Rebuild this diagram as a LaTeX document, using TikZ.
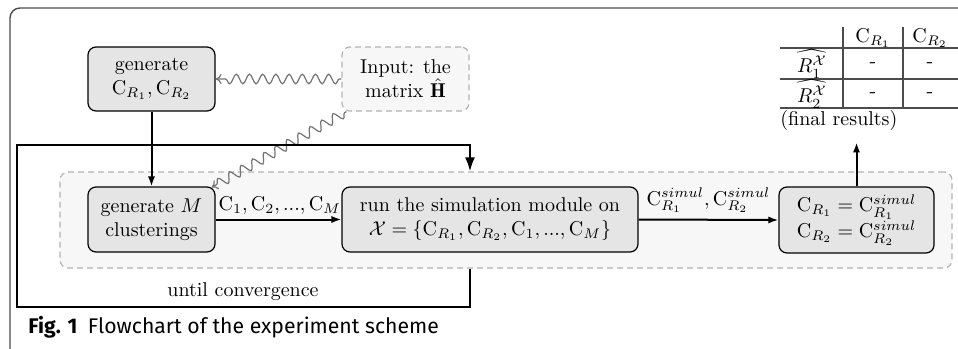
\documentclass[tikz,border=0pt]{standalone}
\usepackage{fontspec}
\newfontfamily\capfont{Fira Sans}
\usetikzlibrary{arrows.meta,decorations.pathmorphing,calc}
\begin{document}
\begin{tikzpicture}[x=0.5pt,y=-0.5pt,
  box/.style={draw=black, line width=0.6pt, fill=gray!20, rounded corners=4pt, align=center, inner sep=0pt},
  dbox/.style={draw=gray!60, dash pattern=on 3pt off 2pt, line width=0.6pt, fill=gray!6, rounded corners=4pt, align=center, inner sep=0pt},
  flow/.style={line width=1pt, -{Latex[length=5pt,width=3.6pt]}},
  bigflow/.style={line width=1pt, -{Latex[length=7pt,width=5pt]}},
  wavy/.style={draw=gray!90!black, line width=0.6pt, -{To[length=3pt,width=5pt]}, decorate,
    decoration={snake, amplitude=2.4pt, segment length=6.6pt, pre length=1pt, post length=2pt}},
  tline/.style={draw=black!70, line width=0.6pt},
  txt/.style={inner sep=0pt},
]
\useasboundingbox (0,0) rectangle (958,348);
% outer frame
\draw[gray!60!black, line width=0.7pt, rounded corners=5pt] (10,370) -- (10,8) -- (990,8);
% loop region
\node[dbox, minimum width=446pt, minimum height=48pt] (region) at (506,220) {};
% boxes
\node[box, minimum width=63.5pt, minimum height=32pt] (gen) at (151.5,79) {generate\\$\mathrm{C}_{R_1},\mathrm{C}_{R_2}$};
\node[dbox, minimum width=63.5pt, minimum height=32pt] (input) at (405.5,79) {Input: the\\matrix $\hat{\mathbf{H}}$};
\node[box, minimum width=63.5pt, minimum height=32.5pt] (genM) at (151.5,219.5) {generate $M$\\clusterings};
\node[box, minimum width=148pt, minimum height=32.5pt] (run) at (490,219.5) {run the simulation module on\\$\mathcal{X}=\{\mathrm{C}_{R_1},\mathrm{C}_{R_2},\mathrm{C}_1,...,\mathrm{C}_M\}$};
\node[box, minimum width=77.5pt, minimum height=33pt] (res) at (856.5,220) {$\mathrm{C}_{R_1}=\mathrm{C}^{simul}_{R_1}$\\$\mathrm{C}_{R_2}=\mathrm{C}^{simul}_{R_2}$};
% table
\draw[tline] (780,48) -- (990,48);
\draw[tline] (780,79) -- (990,79);
\draw[tline] (780,108) -- (990,108);
\draw[tline] (843,27) -- (843,108);
\draw[tline] (903,27) -- (903,108);
\node[txt] (h1) at (873,38) {$\mathrm{C}_{R_1}$};
\node[txt] (h2) at (930,38) {$\mathrm{C}_{R_2}$};
\node[txt] (r1) at (812,64) {$\widehat{R_1^{\mathcal{X}}}$};
\node[txt] (r2) at (812,94) {$\widehat{R_2^{\mathcal{X}}}$};
\node[txt] (c11) at (873,65) {-};
\node[txt] (c12) at (930,65) {-};
\node[txt] (c21) at (873,95) {-};
\node[txt] (c22) at (930,95) {-};
\node[txt, anchor=west] (fr) at (780,120) {(final results)};
% connectors
\draw[flow] (gen.south) -- (genM.north);
\draw[flow] (genM.east) -- node[txt, anchor=south west, pos=0, xshift=1pt, yshift=2pt] {$\mathrm{C}_1,\mathrm{C}_2,...,\mathrm{C}_M$} (run.west);
\draw[flow] (run.east) -- node[txt, above, yshift=3pt] {$\mathrm{C}^{simul}_{R_1},\mathrm{C}^{simul}_{R_2}$} (res.west);
\draw[flow] (res.north) -- ($(res.north |- fr.south)+(0,12)$);
\draw[wavy] (input.west) -- (gen.east);
\draw[wavy] ($(input.south west)+(5,0)$) -- ($(genM.north east)+(-4,1)$);
\draw[bigflow] (region.south -| 470,0) -- (470,307) -- (17,307) -- (17,145) -- (470,145) -- (region.north -| 470,0);
\node[txt] (until) at (243,292) {until convergence};
% caption
\node[txt, anchor=base west, font=\capfont\fontsize{10.6}{12}\selectfont] (cap) at (28,333) {\textbf{Fig. 1}\enspace Flowchart of the experiment scheme};
\end{tikzpicture}
\end{document}
